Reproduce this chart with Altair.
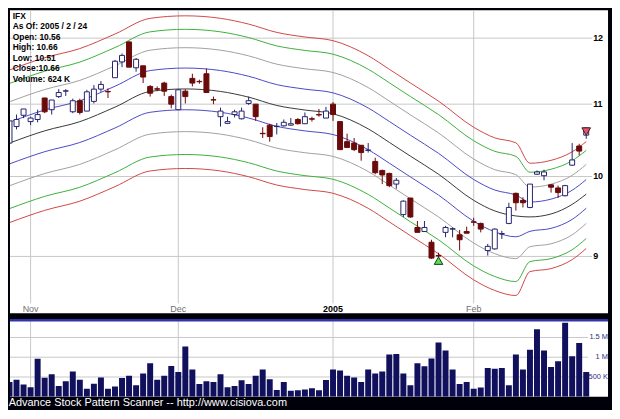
import altair as alt
import pandas as pd

# ---------------- data ----------------
symbol = "IFX"
as_of = "2005 / 2 / 24"

opens = [10.45, 10.68, 10.84, 10.75, 10.78, 11.09, 10.92, 11.11, 11.19, 10.89,
         11.05, 10.90, 11.04, 11.22, 11.185, 11.39, 11.63, 11.94, 11.54, 11.57,
         11.26, 11.225, 11.31, 11.11, 10.92, 11.19, 11.38, 11.335, 11.45, 11.065,
         10.82, 10.725, 10.85, 10.79, 11.01, 11.00, 10.585, 10.70, 10.68, 10.69,
         10.70, 10.78, 10.72, 10.79, 10.85, 10.80, 11.00, 10.75, 10.47, 10.45,
         10.42, 10.35, 10.20, 10.08, 10.04, 9.90, 9.51, 9.72, 9.35, 9.30,
         9.17, 9.01, 9.29, 9.33, 9.26, 9.30, 9.42, 9.40, 9.07, 9.09,
         9.27, 9.40, 9.78, 9.69, 9.60, 10.03, 10.01, 9.89, 9.85, 9.75,
         10.15, 10.41, 10.56]
highs = [10.77, 10.85, 10.93, 10.82, 10.92, 11.09, 11.06, 11.22, 11.22, 11.08,
         11.08, 11.21, 11.28, 11.34, 11.23, 11.66, 11.76, 11.95, 11.69, 11.57,
         11.28, 11.26, 11.33, 11.14, 11.22, 11.22, 11.45, 11.36, 11.53, 11.11,
         10.95, 10.82, 10.92, 10.95, 11.11, 11.00, 10.67, 10.72, 10.73, 10.78,
         10.80, 10.80, 10.88, 10.82, 10.93, 10.96, 11.03, 10.75, 10.58, 10.52,
         10.42, 10.45, 10.25, 10.09, 10.05, 9.98, 9.69, 9.72, 9.43, 9.43,
         9.20, 9.045, 9.37, 9.35, 9.32, 9.36, 9.47, 9.41, 9.15, 9.34,
         9.31, 9.66, 9.79, 9.73, 9.90, 10.08, 10.09, 9.90, 9.88, 9.89,
         10.45, 10.44, 10.66]
lows = [10.44, 10.64, 10.80, 10.70, 10.74, 10.87, 10.85, 11.09, 11.12, 10.87,
        10.85, 10.90, 11.01, 11.18, 11.09, 11.39, 11.55, 11.55, 11.48, 11.31,
        11.11, 11.19, 11.12, 10.94, 10.92, 11.01, 11.26, 11.30, 11.17, 11.00,
        10.68, 10.715, 10.81, 10.78, 10.99, 10.76, 10.52, 10.47, 10.57, 10.68,
        10.69, 10.71, 10.72, 10.75, 10.82, 10.80, 10.76, 10.36, 10.39, 10.34,
        10.21, 10.32, 10.03, 9.90, 9.86, 9.84, 9.48, 9.47, 9.29, 9.30,
        8.97, 8.985, 9.23, 9.23, 9.07, 9.28, 9.37, 9.29, 9.01, 9.08,
        9.21, 9.39, 9.56, 9.60, 9.59, 10.02, 9.95, 9.79, 9.72, 9.74,
        10.14, 10.28, 10.51]
closes = [10.76, 10.78, 10.93, 10.80, 10.85, 10.89, 11.06, 11.17, 11.195, 11.05,
          10.88, 11.18, 11.22, 11.29, 11.18, 11.64, 11.73, 11.55, 11.67, 11.40,
          11.16, 11.22, 11.19, 11.00, 11.21, 11.11, 11.31, 11.33, 11.17, 11.06,
          10.90, 10.75, 10.89, 10.90, 11.05, 10.82, 10.58, 10.54, 10.685, 10.74,
          10.72, 10.72, 10.82, 10.785, 10.845, 10.90, 10.85, 10.36, 10.39, 10.36,
          10.32, 10.355, 10.05, 10.02, 9.88, 9.95, 9.68, 9.48, 9.29, 9.35,
          8.98, 9.005, 9.35, 9.335, 9.20, 9.28, 9.415, 9.33, 9.12, 9.33,
          9.275, 9.60, 9.66, 9.66, 9.90, 10.06, 10.06, 9.86, 9.79, 9.88,
          10.22, 10.34, 10.66]
volumes = [375000, 430000, 310000, 240000, 960000, 480000, 570000, 270000, 390000, 640000,
           430000, 200000, 330000, 490000, 200000, 260000, 475000, 530000, 290000, 590000,
           850000, 430000, 530000, 780000, 625000, 1270000, 690000, 325000, 390000, 375000,
           570000, 240000, 275000, 420000, 325000, 530000, 690000, 440000, 170000, 375000,
           150000, 167000, 183000, 217000, 167000, 425000, 690000, 667000, 533000, 490000,
           375000, 690000, 590000, 640000, 1070000, 1080000, 590000, 290000, 850000, 770000,
           970000, 1370000, 1170000, 690000, 325000, 375000, 200000, 233000, 725000, 710000,
           725000, 290000, 1070000, 690000, 1190000, 1710000, 1170000, 750000, 900000, 1870000,
           1025000, 1360000, 624000]

month_idx = [3, 24, 46, 66]
month_labels = ["Nov", "Dec", "2005", "Feb"]
month_is_year = [False, False, True, False]

price_ticks = [9, 10, 11, 12]
volume_ticks = [500000, 1000000, 1500000]
volume_tick_labels = ["500 K", "1 M", "1.5 M"]

band_idx = [0, 5, 10, 15, 20, 25, 30, 34, 38, 42, 46, 51, 54, 57, 61, 66, 69, 72, 74, 77, 80, 82]
band_center = [10.450, 10.620, 10.749, 10.957, 11.186, 11.223, 11.186, 11.102, 10.981, 10.915, 10.862,
               10.648, 10.460, 10.272, 10.030, 9.690, 9.556, 9.493, 9.481, 9.518, 9.639, 9.770]
band_red_up = [11.506, 11.694, 11.836, 12.065, 12.317, 12.358, 12.317, 12.224, 12.091, 12.018, 11.960,
               11.725, 11.518, 11.311, 11.044, 10.670, 10.522, 10.453, 10.176, 10.215, 10.330, 10.470]
band_green_up = [11.304, 11.488, 11.627, 11.852, 12.100, 12.140, 12.100, 12.009, 11.878, 11.807, 11.749,
                 11.518, 11.315, 11.111, 10.850, 10.482, 10.337, 10.269, 10.056, 10.096, 10.210, 10.350]
band_gray_up = [11.034, 11.214, 11.350, 11.570, 11.811, 11.850, 11.811, 11.723, 11.595, 11.525, 11.469,
                11.243, 11.045, 10.846, 10.591, 10.232, 10.090, 10.024, 9.861, 9.899, 10.015, 10.160]
band_blue_up = [10.742, 10.916, 11.049, 11.263, 11.498, 11.536, 11.498, 11.412, 11.287, 11.220, 11.165,
                10.945, 10.752, 10.559, 10.310, 9.960, 9.823, 9.758, 9.669, 9.706, 9.820, 9.960]
band_blue_dn = [10.167, 10.332, 10.458, 10.660, 10.883, 10.919, 10.883, 10.801, 10.683, 10.619, 10.568,
                10.359, 10.177, 9.994, 9.758, 9.427, 9.297, 9.236, 9.303, 9.339, 9.450, 9.590]
band_gray_dn = [9.878, 10.039, 10.161, 10.358, 10.574, 10.609, 10.574, 10.495, 10.380, 10.318, 10.268,
                10.066, 9.888, 9.710, 9.481, 9.160, 9.033, 8.974, 9.116, 9.151, 9.260, 9.400]
band_green_dn = [9.585, 9.741, 9.859, 10.050, 10.260, 10.294, 10.260, 10.183, 10.072, 10.011, 9.963,
                 9.766, 9.594, 9.421, 9.200, 8.888, 8.765, 8.707, 8.939, 8.974, 9.080, 9.215]
band_red_dn = [9.410, 9.563, 9.680, 9.867, 10.073, 10.106, 10.073, 9.997, 9.888, 9.829, 9.781,
               9.589, 9.419, 9.250, 9.032, 8.726, 8.605, 8.548, 8.822, 8.857, 8.962, 9.095]

buy_idx, buy_price = [61], [8.95]
sell_idx, sell_price = [82], [10.61]

footer = "Advance Stock Pattern Scanner -- http://www.cisiova.com"

# ---------------- styling / layout ----------------
W, PH, VH = 602, 305, 78
X_DOMAIN = [0.07, 85.10]
Y_DOMAIN = [8.35, 12.448]
V_DOMAIN = [0, 1960000]
NAVY = "#24246E"
MAROON = "#6B0A0A"
GRID = "#C8C8C8"
FONT = "Liberation Sans"

xs = alt.Scale(domain=X_DOMAIN, nice=False, zero=False, padding=0)
ys = alt.Scale(type="log", domain=Y_DOMAIN, nice=False, padding=0)
vs = alt.Scale(domain=V_DOMAIN, nice=False, zero=False, padding=0)

n = len(opens)
candles = pd.DataFrame({
    "idx": list(range(n)), "open": opens, "high": highs, "low": lows, "close": closes,
    "dir": ["up" if c >= o else "down" for o, c in zip(opens, closes)],
    "vol": volumes,
})

band_series = [
    ("red_up", band_red_up, "#D04848"), ("green_up", band_green_up, "#3CB03C"),
    ("gray_up", band_gray_up, "#A0A0A0"), ("blue_up", band_blue_up, "#4A4AC8"),
    ("center", band_center, "#383838"), ("blue_dn", band_blue_dn, "#4A4AC8"),
    ("gray_dn", band_gray_dn, "#A0A0A0"), ("green_dn", band_green_dn, "#3CB03C"),
    ("red_dn", band_red_dn, "#D04848"),
]
bands = pd.DataFrame([
    {"idx": i, "price": p, "band": name}
    for name, vals, _ in band_series for i, p in zip(band_idx, vals)
])
band_names = [b[0] for b in band_series]
band_colors = [b[2] for b in band_series]

months = pd.DataFrame({"idx": month_idx, "label": month_labels, "year": month_is_year})
pticks = pd.DataFrame({"p": price_ticks, "label": [str(t) for t in price_ticks]})
vticks = pd.DataFrame({"v": volume_ticks, "label": volume_tick_labels})
buys = pd.DataFrame({"idx": buy_idx, "price": buy_price})
sells = pd.DataFrame({"idx": sell_idx, "price": sell_price})

X = alt.X("idx:Q", scale=xs, axis=None)
dir_fill = alt.Scale(domain=["up", "down"], range=["white", MAROON])
dir_stroke = alt.Scale(domain=["up", "down"], range=[NAVY, MAROON])

info_lines = [
    symbol,
    f"As Of: {as_of}",
    f"Open: {opens[-1]:.2f}",
    f"High: {highs[-1]:.2f}",
    f"Low: {lows[-1]:.2f}",
    f"Close:{closes[-1]:.2f}",
    f"Volume: {volumes[-1] // 1000} K",
]

# ---------------- price panel ----------------
p_vgrid = alt.Chart(months).mark_rule(color=GRID, strokeWidth=1).encode(
    x=X, y=alt.value(0), y2=alt.value(295))
p_hgrid = alt.Chart(pticks).mark_rule(color=GRID, strokeWidth=1).encode(
    y=alt.Y("p:Q", scale=ys, axis=None), x=alt.value(0), x2=alt.value(586))
p_bands = alt.Chart(bands).mark_line(strokeWidth=1, clip=True, interpolate="monotone").encode(
    x=X, y=alt.Y("price:Q", scale=ys, axis=None),
    color=alt.Color("band:N", scale=alt.Scale(domain=band_names, range=band_colors), legend=None),
    detail="band:N")
p_wicks = alt.Chart(candles).mark_rule(strokeWidth=1, clip=True).encode(
    x=X, y=alt.Y("low:Q", scale=ys, axis=None), y2="high:Q",
    stroke=alt.Stroke("dir:N", scale=dir_stroke, legend=None))
p_bodies = alt.Chart(candles).mark_bar(size=5, strokeWidth=1, clip=True).encode(
    x=X, y=alt.Y("open:Q", scale=ys, axis=None), y2="close:Q",
    fill=alt.Fill("dir:N", scale=dir_fill, legend=None),
    stroke=alt.Stroke("dir:N", scale=dir_stroke, legend=None))
p_buy = alt.Chart(buys).mark_point(shape="triangle-up", size=75, filled=True, fill="#50E050",
                                    stroke="#1C3C1C", strokeWidth=1, opacity=1).encode(
    x=X, y=alt.Y("price:Q", scale=ys, axis=None))
p_sell = alt.Chart(sells).mark_point(shape="triangle-down", size=75, filled=True, fill="#F05070",
                                      stroke="#3C1C1C", strokeWidth=1, opacity=1).encode(
    x=X, y=alt.Y("price:Q", scale=ys, axis=None))
p_labels = alt.Chart(pticks).mark_text(align="left", baseline="middle", fontSize=9,
                                        fontWeight="bold", font=FONT, color="black").encode(
    x=alt.value(587), y=alt.Y("p:Q", scale=ys, axis=None), text="label:N")
p_months = alt.Chart(months).transform_filter("!datum.year").mark_text(
    align="center", baseline="middle", fontSize=9, font=FONT, color="#707070").encode(
    x=X, y=alt.value(301), text="label:N")
p_years = alt.Chart(months).transform_filter("datum.year").mark_text(
    align="center", baseline="middle", fontSize=9, font=FONT, fontWeight="bold", color="black").encode(
    x=X, y=alt.value(301), text="label:N")
p_info = alt.Chart(pd.DataFrame({"k": [0]})).mark_text(
    align="left", baseline="alphabetic", fontSize=8.5, fontWeight="bold", font=FONT,
    color="black", lineHeight=10.5, text=info_lines).encode(
    x=alt.value(2.7), y=alt.value(8.7))

price = alt.layer(p_vgrid, p_hgrid, p_bands, p_wicks, p_bodies, p_buy, p_sell,
                  p_labels, p_months, p_years, p_info).properties(width=W, height=PH)

# ---------------- volume panel ----------------
v_top = alt.Chart(pd.DataFrame({"k": [0]})).mark_rule(color="#3434A4", strokeWidth=2.5).encode(
    x=alt.value(0), x2=alt.value(W), y=alt.value(1))
v_vgrid = alt.Chart(months).mark_rule(color=GRID, strokeWidth=1).encode(
    x=X, y=alt.value(0), y2=alt.value(VH))
v_hgrid = alt.Chart(vticks).mark_rule(color=GRID, strokeWidth=1).encode(
    y=alt.Y("v:Q", scale=vs, axis=None), x=alt.value(0), x2=alt.value(582))
v_bars = alt.Chart(candles).mark_bar(size=6, color="#10105C", clip=True).encode(
    x=X, y=alt.Y("vol:Q", scale=vs, axis=None))
v_labels = alt.Chart(vticks).mark_text(align="right", baseline="middle", fontSize=7.5,
                                        font=FONT, color="#303080").encode(
    x=alt.value(602), y=alt.Y("v:Q", scale=vs, axis=None), text="label:N")

volume = alt.layer(v_vgrid, v_hgrid, v_bars, v_top, v_labels).properties(width=W, height=VH)

chart = alt.vconcat(price, volume, spacing=4).properties(
    padding={"left": 0, "top": 0, "right": 2, "bottom": 0},
    background="#00000A",
    title=alt.TitleParams(text=footer, orient="bottom", anchor="start", color="white",
                          fontSize=11, font=FONT, fontWeight="normal", offset=0),
).configure_view(stroke=None, fill="white")

chart.save("out.html", embed_options={"renderer": "svg", "actions": False})
